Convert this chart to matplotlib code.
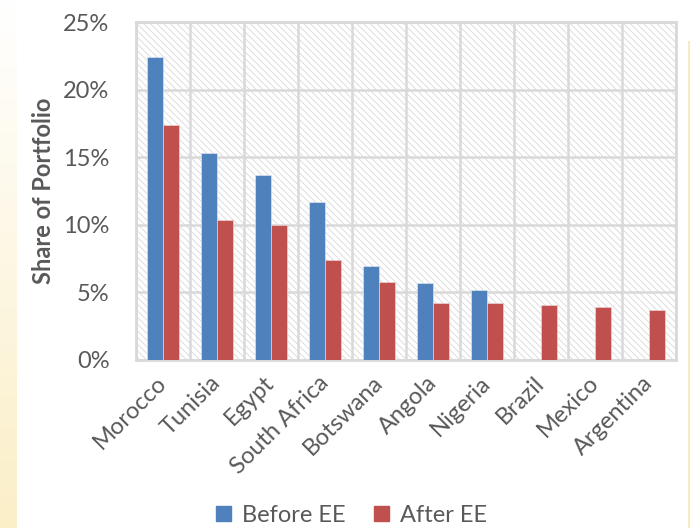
import matplotlib
matplotlib.use("Agg")
import matplotlib.pyplot as plt
import numpy as np
from matplotlib.patches import Rectangle
from matplotlib.lines import Line2D

categories = ["Morocco", "Tunisia", "Egypt", "South Africa", "Botswana",
              "Angola", "Nigeria", "Brazil", "Mexico", "Argentina"]
before_ee = [22.4, 15.3, 13.7, 11.7, 6.95, 5.7, 5.2, 0, 0, 0]
after_ee = [17.4, 10.35, 10.0, 7.4, 5.8, 4.2, 4.2, 4.05, 3.95, 3.7]
yticks = [0, 5, 10, 15, 20, 25]
ytick_labels = ["0%", "5%", "10%", "15%", "20%", "25%"]

plt.rcParams['font.family'] = ['Lato', 'DejaVu Sans']
plt.rcParams['hatch.linewidth'] = 0.6

blue = "#4F81BD"
red = "#C0504D"
grid_c = "#D9D9D9"
text_c = "#595959"

fig = plt.figure(figsize=(6.92, 5.28), dpi=100)
fig.patch.set_facecolor("white")

# left decorative gradient strip
bg = fig.add_axes([0, 0, 17/692, 1], zorder=-5)
grad = np.linspace(0, 1, 256).reshape(-1, 1)
top = np.array([1.0, 1.0, 1.0])
bot = np.array([0xFB, 0xEF, 0xC8]) / 255
img = top[None, None, :] * (1 - grad[..., None]) + bot[None, None, :] * grad[..., None]
bg.imshow(img, aspect="auto", extent=[0, 1, 0, 1], origin="upper")
bg.axis("off")
fig.add_artist(Line2D([689/692, 689/692], [0.0, 0.92], transform=fig.transFigure,
                      color="#F8EBC4", lw=1.5))

ax = fig.add_axes([136/692, (528-360)/528, (676-136)/692, (360-22)/528])
ax.set_facecolor("white")
ax.add_patch(Rectangle((0, 0), 1, 1, transform=ax.transAxes, facecolor="white",
                       edgecolor="#D8D8D8", hatch="\\\\\\\\\\", lw=0, zorder=0))

x = np.arange(len(categories))
w = 0.29
ax.bar(x - w/2, before_ee, w, color=blue, label="Before EE", zorder=3,
       edgecolor="#E6ECF5", linewidth=0.4)
ax.bar(x + w/2, after_ee, w, color=red, label="After EE", zorder=3,
       edgecolor="#F2DCDB", linewidth=0.4)

ax.set_xlim(-0.5, len(categories) - 0.5)
ax.set_ylim(0, 25)
ax.set_yticks(yticks)
ax.set_yticklabels(ytick_labels)
ax.set_xticks(np.arange(-0.5, len(categories), 1), minor=True)
ax.grid(True, which="minor", axis="x", color=grid_c, lw=1.8, zorder=1)
ax.grid(True, which="major", axis="y", color=grid_c, lw=1.8, zorder=1)
ax.set_axisbelow(False)
for s in ax.spines.values():
    s.set_color(grid_c)
    s.set_linewidth(2)
    s.set_zorder(1)

ax.set_xticks(x)
ax.set_xticklabels(categories, rotation=45, ha="right", va="center",
                   rotation_mode="anchor", fontsize=17, color=text_c)
ax.tick_params(axis="x", which="both", length=0, pad=14)
ax.tick_params(axis="y", length=0, pad=19, labelsize=17, labelcolor=text_c)

ax.set_ylabel("Share of Portfolio", fontsize=17, fontweight="bold", color=text_c,
              labelpad=6)

handles = [Rectangle((0, 0), 1, 1, color=blue), Rectangle((0, 0), 1, 1, color=red)]
fig.legend(handles, ["Before EE", "After EE"], loc="center", ncol=2,
           bbox_to_anchor=(352/692, 1 - 515/528), frameon=False, fontsize=17,
           handlelength=0.6, handleheight=0.6, handletextpad=0.5, columnspacing=1.2,
           labelcolor=text_c)

fig.savefig("out.png", dpi=100)
